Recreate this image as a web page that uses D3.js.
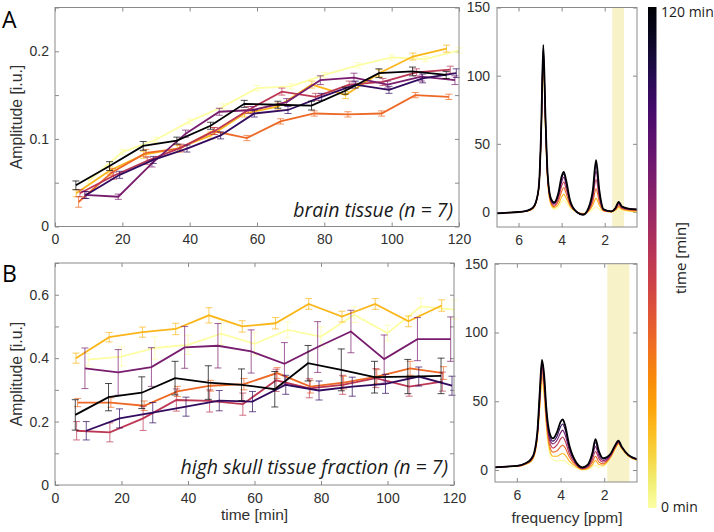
<!DOCTYPE html>
<html><head><meta charset="utf-8">
<script src="https://cdn.jsdelivr.net/npm/d3@7"></script>
<style>
body{margin:0;background:#fff;}
svg{display:block;font-family:"Liberation Sans",Arial,sans-serif;}
</style></head><body>
<svg id="chart" width="714" height="532"></svg>
<script>
// ---------------- DATA ----------------
// seven subjects (n = 7), ordered light -> dark
const subjects = ["s1","s2","s3","s4","s5","s6","s7"];
const baseTimes = [0,10,20,30,40,50,60,70,80,90,100,110];
const timeOffsetBrain = [10, 6.3, 7.0, 7.4, 8.8, 9.2, 6.2];
const timeOffsetSkull = [10, 6.3, 6.8, 6.5, 9.0, 9.4, 6.1];

const brainMean = [
  [0.052,0.085,0.099,0.120,0.137,0.158,0.160,0.173,0.184,0.193,0.191,0.201],
  [0.038,0.064,0.082,0.089,0.104,0.129,0.137,0.162,0.150,0.175,0.194,0.203],
  [0.028,0.062,0.084,0.089,0.109,0.101,0.120,0.129,0.128,0.129,0.150,0.148],
  [0.038,0.058,0.075,0.090,0.109,0.133,0.154,0.148,0.162,0.165,0.176,0.179],
  [0.036,0.034,0.072,0.106,0.131,0.133,0.142,0.167,0.170,0.162,0.171,0.167],
  [0.036,0.059,0.076,0.089,0.104,0.129,0.133,0.148,0.162,0.156,0.169,0.175],
  [0.047,0.069,0.092,0.098,0.115,0.140,0.139,0.138,0.155,0.175,0.177,0.173]
];
const brainErr = [
  [0.003,0.003,0.003,0.003,0.003,0.003,0.003,0.003,0.003,0.003,0.003,0.003],
  [0.004,0.004,0.004,0.004,0.004,0.004,0.004,0.004,0.004,0.004,0.004,0.004],
  [0.006,0.004,0.004,0.004,0.004,0.003,0.003,0.003,0.003,0.003,0.003,0.003],
  [0.004,0.004,0.004,0.004,0.004,0.004,0.004,0.004,0.004,0.004,0.004,0.004],
  [0.004,0.003,0.004,0.004,0.004,0.004,0.004,0.005,0.005,0.004,0.005,0.005],
  [0.004,0.004,0.004,0.004,0.004,0.004,0.004,0.004,0.004,0.004,0.005,0.005],
  [0.005,0.005,0.005,0.004,0.004,0.004,0.004,0.005,0.004,0.005,0.005,0.004]
];
const skullMean = [
  [0.395,0.405,0.432,0.442,0.477,0.445,0.489,0.468,0.537,0.479,0.563,0.553],
  [0.400,0.466,0.482,0.492,0.535,0.500,0.510,0.571,0.531,0.571,0.516,0.566],
  [0.260,0.260,0.250,0.295,0.313,0.318,0.353,0.310,0.323,0.342,0.368,0.353],
  [0.171,0.166,0.210,0.268,0.265,0.255,0.330,0.305,0.316,0.337,0.310,0.326],
  [0.368,0.355,0.372,0.434,0.439,0.421,0.382,0.435,0.484,0.397,0.460,0.460],
  [0.171,0.210,0.228,0.247,0.266,0.263,0.316,0.298,0.310,0.319,0.342,0.313],
  [0.221,0.277,0.291,0.337,0.323,0.316,0.302,0.384,0.363,0.340,0.342,0.344]
];
const skullErr = [
  [0.020,0.030,0.035,0.030,0.035,0.035,0.025,0.030,0.025,0.025,0.026,0.030],
  [0.016,0.015,0.016,0.018,0.024,0.018,0.018,0.017,0.017,0.017,0.017,0.018],
  [0.013,0.015,0.015,0.016,0.017,0.018,0.017,0.020,0.020,0.022,0.022,0.020],
  [0.029,0.030,0.038,0.035,0.035,0.035,0.035,0.030,0.030,0.030,0.030,0.030],
  [0.064,0.072,0.061,0.066,0.070,0.068,0.067,0.080,0.067,0.076,0.068,0.070],
  [0.029,0.030,0.032,0.030,0.032,0.032,0.030,0.030,0.030,0.030,0.030,0.030],
  [0.048,0.043,0.050,0.053,0.053,0.050,0.056,0.056,0.066,0.050,0.054,0.056]
];

// spectra (frequency in ppm, amplitude in i.u.) for acquisition times
const spectraTimes = [0,20,40,60,80,100,120];
const ppmGrid = [7.0,6.5,6.0,5.6,5.35,5.2,5.05,4.95,4.85,4.75,4.65,4.5,4.35,4.15,4.0,3.9,3.8,3.6,3.3,3.0,2.75,2.55,2.4,2.25,2.05,1.7,1.5,1.35,1.2,0.9,0.5];
const spectraBrain = [
  [-1,-0.5,0,0.5,2,6,18,52,106,60,22,5,2,3.5,7.5,8.8,7,3,0,-1,0,2,4,2,0.5,0,1,2.5,1.5,0.5,0],
  [-1,-0.5,0,0.6,2.2,6.2,18.5,54,110,62,23,6,3,5.5,11,13,10.5,4,0,-1.2,0.5,5,10,5,0.8,0.1,1.4,3.5,2,1,0.5],
  [-1,-0.5,0,0.7,2.4,6.4,19,56,113,64,24.5,7,4,8,15,18,14,5,0,-1.4,1,7.5,17,7.5,1,0.2,1.8,4.5,2.5,1.5,1],
  [-1,-0.5,0,0.8,2.6,6.6,19.3,57,116,66,25.5,8,5,10,19,22,17.5,6,0,-1.6,1.5,10,24,10,1.3,0.3,2.2,5.5,3,2,1.5],
  [-1,-0.5,0,0.9,2.8,6.8,19.6,58,119,68,26.5,9,6,12,22,25.5,20.5,7,0,-1.8,2,12.5,30,12.5,1.5,0.4,2.5,6.5,3.5,2.2,1.8],
  [-1,-0.5,0,1,3,7,19.8,59,121,69,27.5,9.5,6.5,13,24.5,28,22.5,7.5,0,-2,2.5,14.5,35,14.5,1.8,0.5,2.8,7,3.8,2.4,2],
  [-1,-0.5,0,1,3,7,20,60,122.5,70,28,10,7,14,26,29.5,24,8,0,-2,3,16,38,16,2,0.5,3,7.5,4,2.5,2]
];
const spectraSkull = [
  [2,2.5,2.5,4,6,10,24,44,64,52,30,12,7.5,6.5,7,7,6.5,4,1.5,0,0.5,2,3.5,2,2.5,9,15,18.4,15,10,7],
  [2,2.5,2.6,4.2,6.3,10.5,25,46,68,55,33,15,10,10,11.5,12,11,6.5,2.5,0.3,1,3.5,7,4,3.5,9.5,15.5,19,15.5,10.2,7.2],
  [2,2.5,2.7,4.4,6.8,11,26,48,72,59,36,18,13,14,17,18,16.5,9.5,3.5,0.7,1.6,5.5,10,6,4.5,10,16,19.5,16,10.5,7.4],
  [2,2.5,2.8,4.6,7.2,11.8,27,51,75,62,39,21,16,18.5,22.5,24,21.5,12,4.3,1,2.3,7.5,13.5,8.5,5.8,10.6,16.8,20,16.3,10.7,7.6],
  [2,2.5,2.9,4.8,7.6,12.3,28,53,77,65,41,23,19,22,27,29,26,14.5,5,1.4,3,9.5,17,10.5,7,11.2,17.3,20.5,16.6,10.8,7.7],
  [2,2.5,3,4.9,7.8,12.7,29,55,79,67,43,25,21,25,31.5,33.5,30,16.5,5.6,1.7,3.5,11,20,12.5,8,11.6,17.7,21,16.8,10.9,7.8],
  [2,2.5,3,5,8,13,30,57,80,69,45,27,23,28,35,36.8,33,18,6,2,4,12,22.5,14,8.6,12,18,21.3,17,11,7.9]
];
const bandBrain = [1.65, 1.1];
const bandSkull = [1.86, 0.85];

// ticks / labels
const timeTicks = [0,20,40,60,80,100,120];
const ampTicksBrain = [0,0.05,0.1,0.15,0.2,0.25];
const ampLabelsBrain = [0,0.1,0.2];
const ampTicksSkull = [0,0.1,0.2,0.3,0.4,0.5,0.6,0.7];
const ampLabelsSkull = [0,0.2,0.4,0.6];
const ppmTicks = [6,4,2];
const specTicks = [0,50,100,150];
const colorbarLabels = ["0 min","120 min"];

// ---------------- DRAW ----------------
const svg = d3.select("#chart");
const AX = "#8a8a8a", TXT = "#303030";
const subjColor = i => d3.interpolateInferno(1 - i/6);
const timeColor = t => d3.interpolateInferno(1 - t/120);

function box(g, x0, x1, y0, y1) {
  g.append("rect").attr("x", x0).attr("y", y0).attr("width", x1-x0).attr("height", y1-y0)
    .attr("fill","none").attr("stroke", AX).attr("stroke-width",1);
}
function styleAxis(sel) {
  sel.select(".domain").remove();
  sel.selectAll(".tick line").attr("stroke", AX);
  sel.selectAll(".tick text").attr("fill", TXT).style("font-size","14px")
    .style("font-family","'Liberation Sans',Arial,sans-serif");
}

function timePanel(opts) {
  const {x0,x1,y0,y1,yMax,yTicks,yLabels,offsets,means,errs,note,noteY} = opts;
  const x = d3.scaleLinear().domain([0,120]).range([x0,x1]);
  const y = d3.scaleLinear().domain([0,yMax]).range([y1,y0]);
  const g = svg.append("g");
  const fmt = d => yLabels.includes(d) ? String(d) : "";
  g.append("g").attr("transform",`translate(0,${y1})`).call(d3.axisBottom(x).tickValues(timeTicks).tickSize(-4).tickPadding(8)).call(styleAxis);
  g.append("g").attr("transform",`translate(0,${y0})`).call(d3.axisTop(x).tickValues(timeTicks).tickSize(-4).tickFormat("")).call(styleAxis);
  g.append("g").attr("transform",`translate(${x0},0)`).call(d3.axisLeft(y).tickValues(yTicks).tickSize(-4).tickPadding(6).tickFormat(fmt)).call(styleAxis);
  g.append("g").attr("transform",`translate(${x1},0)`).call(d3.axisRight(y).tickValues(yTicks).tickSize(-4).tickFormat("")).call(styleAxis);

  const line = d3.line().x(d=>x(d.t)).y(d=>y(d.v));
  means.forEach((arr,i)=>{
    const pts = arr.map((v,k)=>({t: baseTimes[k]+offsets[i], v, e: errs[i][k]}));
    const c = subjColor(i);
    const sg = g.append("g");
    const eb = sg.append("g").attr("stroke",c).attr("stroke-width",1).attr("stroke-opacity",0.7)
      .selectAll("g").data(pts).join("g");
    eb.append("line").attr("x1",d=>x(d.t)).attr("x2",d=>x(d.t)).attr("y1",d=>y(d.v-d.e)).attr("y2",d=>y(d.v+d.e));
    eb.append("line").attr("x1",d=>x(d.t)-3.5).attr("x2",d=>x(d.t)+3.5).attr("y1",d=>y(d.v-d.e)).attr("y2",d=>y(d.v-d.e));
    eb.append("line").attr("x1",d=>x(d.t)-3.5).attr("x2",d=>x(d.t)+3.5).attr("y1",d=>y(d.v+d.e)).attr("y2",d=>y(d.v+d.e));
    sg.append("path").datum(pts).attr("d",line).attr("fill","none").attr("stroke",c).attr("stroke-width",1.8);
  });
  box(g,x0,x1,y0,y1);
  g.append("text").attr("x",x1-6).attr("y",noteY).attr("text-anchor","end")
    .style("font-family","'Open Sans',sans-serif").style("font-style","italic").style("font-size","19.5px")
    .attr("fill","#1a1a1a").text(note);
  g.append("text").attr("transform",`translate(22,${(y0+y1)/2}) rotate(-90)`).attr("text-anchor","middle")
    .style("font-size","15.8px").attr("fill",TXT).text("Amplitude [i.u.]");
}

function specPanel(opts) {
  const {x0,x1,y0,y1,yMin,spectra,band,id} = opts;
  const x = d3.scaleLinear().domain([7,0.5]).range([x0,x1]);
  const y = d3.scaleLinear().domain([yMin,150]).range([y1,y0]);
  const g = svg.append("g");
  g.append("clipPath").attr("id",id).append("rect").attr("x",x0).attr("y",y0).attr("width",x1-x0).attr("height",y1-y0);
  g.append("rect").attr("x",x(band[0])).attr("y",y0).attr("width",x(band[1])-x(band[0])).attr("height",y1-y0).attr("fill","#f8f2c8");
  g.append("g").attr("transform",`translate(0,${y1})`).call(d3.axisBottom(x).tickValues(ppmTicks).tickSize(-4).tickPadding(8).tickFormat(d3.format("d"))).call(styleAxis);
  g.append("g").attr("transform",`translate(0,${y0})`).call(d3.axisTop(x).tickValues(ppmTicks).tickSize(-4).tickFormat("")).call(styleAxis);
  g.append("g").attr("transform",`translate(${x0},0)`).call(d3.axisLeft(y).tickValues(specTicks).tickSize(-4).tickPadding(7)).call(styleAxis);
  g.append("g").attr("transform",`translate(${x1},0)`).call(d3.axisRight(y).tickValues(specTicks).tickSize(-4).tickFormat("")).call(styleAxis);
  const line = d3.line().x(d=>x(d[0])).y(d=>y(d[1])).curve(d3.curveMonotoneX);
  const cg = g.append("g").attr("clip-path",`url(#${id})`);
  spectra.forEach((arr,i)=>{
    const pts = ppmGrid.map((p,k)=>[p,arr[k]]);
    cg.append("path").datum(pts).attr("d",line).attr("fill","none")
      .attr("stroke",timeColor(spectraTimes[i])).attr("stroke-width", i===spectra.length-1?1.8:1.1);
  });
  box(g,x0,x1,y0,y1);
}

timePanel({x0:55,x1:459,y0:7.5,y1:226.5,yMax:0.25,yTicks:ampTicksBrain,yLabels:ampLabelsBrain,
  offsets:timeOffsetBrain,means:brainMean,errs:brainErr,note:"brain tissue (n = 7)",noteY:217});
timePanel({x0:55,x1:454,y0:263,y1:485,yMax:0.7,yTicks:ampTicksSkull,yLabels:ampLabelsSkull,
  offsets:timeOffsetSkull,means:skullMean,errs:skullErr,note:"high skull tissue fraction (n = 7)",noteY:474});
specPanel({x0:497,x1:637,y0:7.5,y1:227,yMin:-11,spectra:spectraBrain,band:bandBrain,id:"clipA"});
specPanel({x0:495,x1:637,y0:263.7,y1:482,yMin:-8.7,spectra:spectraSkull,band:bandSkull,id:"clipB"});

// axis titles
svg.append("text").attr("x",254.5).attr("y",520).attr("text-anchor","middle").style("font-size","15.5px").attr("fill",TXT).text("time [min]");
svg.append("text").attr("x",567).attr("y",523).attr("text-anchor","middle").style("font-size","15.5px").attr("fill",TXT).text("frequency [ppm]");

// panel letters
svg.append("text").attr("x",2).attr("y",28).style("font-family","'Open Sans',sans-serif").style("font-size","23px").attr("fill","#000").text("A");
svg.append("text").attr("x",2).attr("y",282).style("font-family","'Open Sans',sans-serif").style("font-size","23px").attr("fill","#000").text("B");

// colorbar
const cb = d3.scaleLinear().domain([0,120]).range([508,7]);
const grad = svg.append("defs").append("linearGradient").attr("id","cbg").attr("x1",0).attr("x2",0).attr("y1",1).attr("y2",0);
d3.range(0,1.0001,0.05).forEach(s=>grad.append("stop").attr("offset",s).attr("stop-color",timeColor(s*120)));
svg.append("rect").attr("x",648).attr("y",cb(120)).attr("width",8.5).attr("height",cb(0)-cb(120)).attr("fill","url(#cbg)");
svg.append("text").attr("x",661).attr("y",cb(0)+4).style("font-family","'Open Sans',sans-serif").style("font-size","14px").attr("fill","#1a1a1a").text(colorbarLabels[0]);
svg.append("text").attr("x",661).attr("y",cb(120)+10).style("font-family","'Open Sans',sans-serif").style("font-size","14px").attr("fill","#1a1a1a").text(colorbarLabels[1]);
svg.append("text").attr("transform",`translate(686,258) rotate(-90)`).attr("text-anchor","middle")
  .style("font-family","'Open Sans',sans-serif").style("font-size","15px").attr("fill","#1a1a1a").text("time [min]");
</script>
</body></html>
